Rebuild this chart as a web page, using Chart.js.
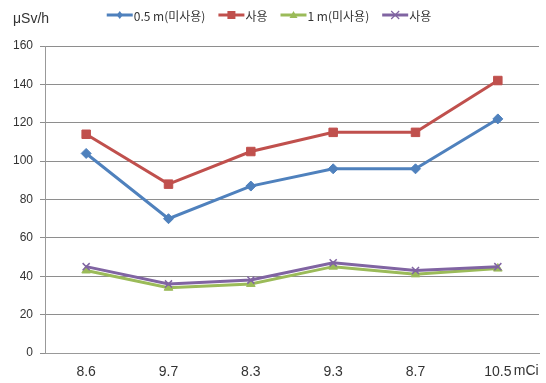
<!DOCTYPE html>
<html>
<head>
<meta charset="utf-8">
<script src="https://cdn.jsdelivr.net/npm/chart.js@4"></script>
<style>
  html, body { margin: 0; padding: 0; background: #fff; }
  #wrap { width: 546px; height: 383px; position: relative; }
</style>
</head>
<body>
<div id="wrap"><canvas id="c" width="546" height="383"></canvas></div>
<script>
// Source activity per measurement (mCi) and dose rates (μSv/h)
const categories = ['8.6', '9.7', '8.3', '9.3', '8.7', '10.5'];
const unitLabel = 'mCi';
const axisUnit = 'μSv/h';
const seriesNames = ['0.5 m(미사용)', '사용', '1 m(미사용)', '사용'];
const halfMeterUnused = [104, 70, 87, 96, 96, 122];
const halfMeterUsed = [114, 88, 105, 115, 115, 142];
const oneMeterUnused = [43, 34, 36, 45, 41, 44];
const oneMeterUsed = [45, 36, 38, 47, 43, 45];
const yTicks = [0, 20, 40, 60, 80, 100, 120, 140, 160];

const colors = ['#4F81BD', '#C0504D', '#9BBB59', '#8064A2'];
const markers = ['rectRot', 'rect', 'triangle', 'crossRot'];
const markerSize = [5, 6, 5, 5];

const tickFont = '"Liberation Sans", "DejaVu Sans", sans-serif';
const legendFont = '12px "Noto Sans CJK KR", "Liberation Sans", sans-serif';

// Draw a legend marker centred at (cx, cy)
function drawMarker(g, marker, cx, cy, color) {
  g.fillStyle = color; g.strokeStyle = color;
  g.beginPath();
  if (marker === 'rectRot') {
    g.moveTo(cx, cy - 4); g.lineTo(cx + 3, cy); g.lineTo(cx, cy + 4); g.lineTo(cx - 3, cy); g.closePath(); g.fill();
  } else if (marker === 'rect') {
    g.fillRect(cx - 4, cy - 4, 8, 8);
  } else if (marker === 'triangle') {
    g.moveTo(cx, cy - 4); g.lineTo(cx + 4, cy + 3); g.lineTo(cx - 4, cy + 3); g.closePath(); g.fill();
  } else {
    g.lineWidth = 1.2;
    g.moveTo(cx - 4, cy - 4); g.lineTo(cx + 4, cy + 4);
    g.moveTo(cx + 4, cy - 4); g.lineTo(cx - 4, cy + 4); g.stroke();
  }
}

// Legend row at the top plus the unit captions
const captions = {
  id: 'captions',
  afterDraw(chart) {
    const g = chart.ctx;
    const x = chart.scales.x;
    g.save();
    // legend
    g.font = legendFont;
    const lineW = 26, gapText = 1, gapItem = 13;
    const widths = chart.data.datasets.map(ds => lineW + gapText + g.measureText(ds.label).width);
    const total = widths.reduce((a, b) => a + b, 0) + gapItem * (widths.length - 1);
    let lx = 269 - total / 2;
    const ly = 15;
    chart.data.datasets.forEach((ds, i) => {
      g.strokeStyle = colors[i]; g.lineWidth = 3;
      g.beginPath(); g.moveTo(lx, ly); g.lineTo(lx + lineW, ly); g.stroke();
      drawMarker(g, markers[i], lx + lineW / 2, ly, colors[i]);
      g.fillStyle = '#333';
      g.textAlign = 'left'; g.textBaseline = 'middle';
      g.fillText(ds.label, lx + lineW + gapText, ly + 1);
      lx += widths[i] + gapItem;
    });
    // unit captions
    g.fillStyle = '#333';
    g.textBaseline = 'middle';
    g.textAlign = 'left';
    g.font = '14px ' + tickFont;
    g.fillText(axisUnit, 13, 19);
    const px = x.getPixelForValue(categories.length - 1);
    g.fillText(unitLabel, px + 16, 371);
    g.restore();
  }
};

const seriesData = [halfMeterUnused, halfMeterUsed, oneMeterUnused, oneMeterUsed];
const datasets = seriesData.map((d, i) => ({
  label: seriesNames[i],
  data: d,
  borderColor: colors[i],
  backgroundColor: colors[i],
  borderWidth: 3,
  pointStyle: markers[i],
  pointRadius: markerSize[i],
  pointBorderWidth: i === 3 ? 1.5 : 1,
  pointBorderColor: colors[i],
  pointBackgroundColor: colors[i],
  tension: 0,
  order: 4 - i
}));

new Chart(document.getElementById('c'), {
  type: 'line',
  data: { labels: categories, datasets },
  plugins: [captions],
  options: {
    responsive: false,
    animation: false,
    devicePixelRatio: 1,
    layout: { padding: { left: 0, right: 6, top: 46, bottom: 0 } },
    plugins: {
      tooltip: { enabled: false },
      legend: { display: false }
    },
    scales: {
      x: {
        offset: true,
        afterFit(scale) { scale.height = 30; },
        grid: { display: false, drawTicks: false },
        border: { display: true, color: '#999', width: 1 },
        ticks: {
          color: '#333',
          padding: 11,
          maxRotation: 0,
          font: { family: tickFont, size: 14 }
        }
      },
      y: {
        min: 0,
        max: 160,
        afterFit(scale) { scale.width = 45; },
        afterBuildTicks(scale) { scale.ticks = yTicks.map(v => ({ value: v })); },
        grid: { color: '#8e8e8e', lineWidth: 1, tickLength: 5, drawTicks: true },
        border: { display: true, color: '#999', width: 1 },
        ticks: {
          color: '#333',
          padding: 7,
          font: { family: tickFont, size: 12 }
        }
      }
    }
  }
});
</script>
</body>
</html>
